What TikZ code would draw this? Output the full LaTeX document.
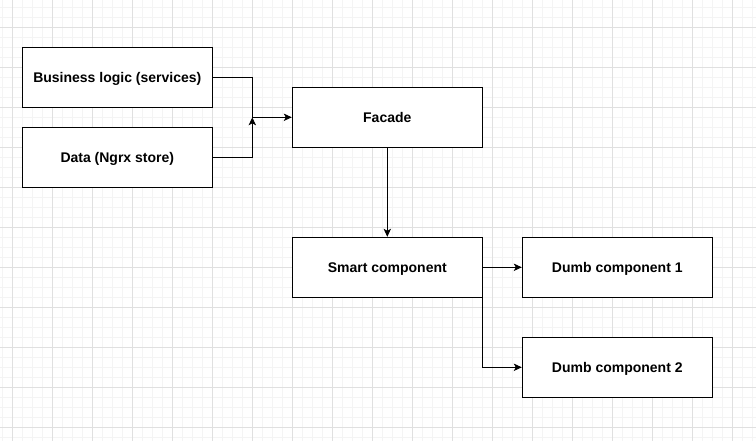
\documentclass[tikz,border=0pt]{standalone}
\usepackage{fontspec}
\setmainfont{Liberation Sans}
\usetikzlibrary{arrows.meta}
\definecolor{minorgrid}{HTML}{F4F4F4}
\definecolor{majorgrid}{HTML}{E0E0E0}
\tikzset{
  box/.style={draw=black, line width=0.75pt, fill=white, minimum width=142.5pt, minimum height=45pt, inner sep=0pt, text height=7.5pt, text depth=0pt, font=\fontsize{10.5}{12}\selectfont\bfseries},
  conn/.style={draw=black, line width=0.75pt, -{Stealth[length=6pt,width=5.5pt,inset=1.5pt]}},
}
\begin{document}
\begin{tikzpicture}[x=0.75pt,y=-0.75pt]
\useasboundingbox (0,0) rectangle (756,441);
\fill[white] (0,0) rectangle (756,441);
% minor grid
\foreach \x in {2.3,12.3,...,756}{\draw[minorgrid, line width=0.75pt] (\x,0) -- (\x,441);}
\foreach \y in {7.3,17.3,...,441}{\draw[minorgrid, line width=0.75pt] (0,\y) -- (756,\y);}
% major grid
\foreach \x in {12.3,52.3,...,756}{\draw[majorgrid, line width=0.75pt] (\x,0) -- (\x,441);}
\foreach \y in {27.3,67.3,...,441}{\draw[majorgrid, line width=0.75pt] (0,\y) -- (756,\y);}
% nodes
\node[box] (bl) at (117.3,77.3) {Business logic (services)};
\node[box] (data) at (117.3,157.3) {Data (Ngrx store)};
\node[box] (facade) at (387.3,117.3) {Facade};
\node[box] (smart) at (387.3,267.3) {Smart component};
\node[box] (dumb1) at (617.3,267.3) {Dumb component 1};
\node[box] (dumb2) at (617.3,367.3) {Dumb component 2};
\coordinate (j) at (252.3,117.3);
% connectors
\draw[conn] (bl.east) -| (j) -- (facade.west);
\draw[conn] (data.east) -| (j);
\draw[conn] (facade.south) -- (smart.north);
\draw[conn] (smart.east) -- (dumb1.west);
\draw[conn] (smart.east) |- (dumb2.west);
\end{tikzpicture}
\end{document}
